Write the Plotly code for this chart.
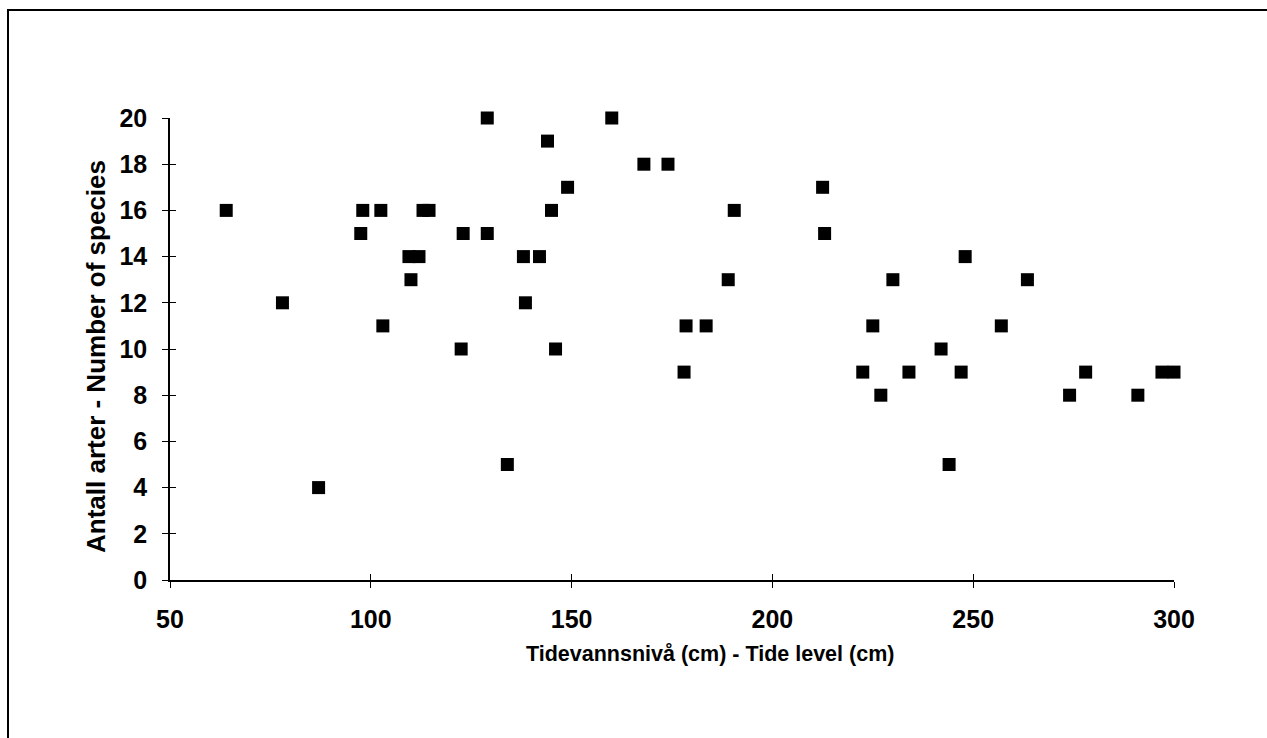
import plotly.graph_objects as go

tide_level = [64, 78, 87, 97.5, 98, 102.5, 103, 109.5, 110, 112, 113, 114.5,
              122.5, 123, 129, 129, 134, 138, 138.5, 142, 144, 145, 146, 149,
              160, 168, 174, 178, 178.5, 183.5, 189, 190.5, 212.5, 213, 222.5,
              225, 227, 230, 234, 242, 244, 247, 248, 257, 263.5, 274, 278,
              291, 297, 300]
species = [16, 12, 4, 15, 16, 16, 11, 14, 13, 14, 16, 16,
           10, 15, 20, 15, 5, 14, 12, 14, 19, 16, 10, 17,
           20, 18, 18, 9, 11, 11, 13, 16, 17, 15, 9,
           11, 8, 13, 9, 10, 5, 9, 14, 11, 13, 8, 9,
           8, 9, 9]

x_ticks = [50, 100, 150, 200, 250, 300]
y_ticks = [0, 2, 4, 6, 8, 10, 12, 14, 16, 18, 20]
x_title = "Tidevannsnivå (cm) - Tide level (cm)"
y_title = "Antall arter - Number of species"

W, H = 1267, 738
L, R, T, B = 170, 93, 118, 158
pw, ph = W - L - R, H - T - B

FONT = "Arial, Liberation Sans, Helvetica, sans-serif"
tickfont = dict(family=FONT, size=25, color="black", weight="bold")

fig = go.Figure()
fig.add_trace(go.Scatter(
    x=tide_level, y=species, mode="markers",
    marker=dict(symbol="square", size=13, color="black", line=dict(width=0)),
    cliponaxis=False, showlegend=False, hoverinfo="x+y"))

common = dict(showgrid=False, zeroline=False, showline=True, linecolor="black",
              linewidth=1.5, tickcolor="black", tickwidth=1.2, ticklen=6)

fig.update_layout(
    width=W, height=H,
    margin=dict(l=L, r=R, t=T, b=B),
    paper_bgcolor="white", plot_bgcolor="white",
    xaxis=dict(range=[50, 300], tickvals=x_ticks, ticktext=[str(v) for v in x_ticks],
               ticks="outside", tickfont=tickfont, ticklabelstandoff=10, **common),
    yaxis=dict(range=[0, 20], tickvals=y_ticks, ticktext=[str(v) for v in y_ticks],
               ticks="outside", tickfont=tickfont, ticklabelstandoff=10, **common),
    xaxis2=dict(range=[50, 300], overlaying="x", side="bottom", tickvals=x_ticks,
                ticks="inside", showticklabels=False, anchor="y", **common),
    yaxis2=dict(range=[0, 20], overlaying="y", side="left", tickvals=y_ticks,
                ticks="inside", showticklabels=False, anchor="x", **common),
)
# dummy trace to activate secondary axes
fig.add_trace(go.Scatter(x=[None], y=[None], xaxis="x2", yaxis="y2",
                         showlegend=False, hoverinfo="skip"))

def px_x(p):
    return (p - L) / pw

def px_y(p):
    return (H - B - p) / ph

fig.add_annotation(text=x_title, xref="paper", yref="paper",
                   x=px_x(710), y=px_y(654), xanchor="center", yanchor="middle",
                   showarrow=False,
                   font=dict(family=FONT, size=21.5, color="black", weight="bold"))
fig.add_annotation(text=y_title, xref="paper", yref="paper",
                   x=px_x(96), y=px_y(357), xanchor="center", yanchor="middle",
                   textangle=-90, showarrow=False,
                   font=dict(family=FONT, size=26, color="black", weight="bold"))

# outer frame (left and top edges visible)
fig.add_shape(type="rect", xref="paper", yref="paper",
              x0=px_x(8), x1=px_x(W + 10), y0=px_y(H + 10), y1=px_y(10),
              line=dict(color="black", width=2), layer="below")

fig.write_html("out.html")
